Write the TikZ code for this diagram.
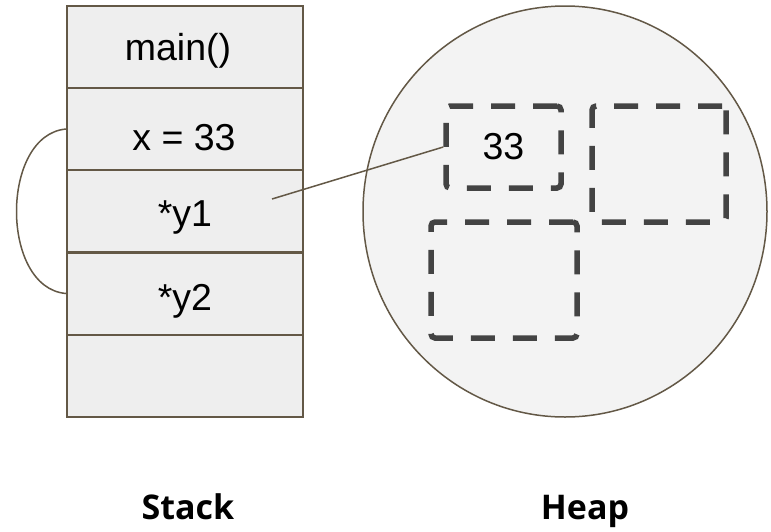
\documentclass[tikz,border=0pt]{standalone}
\usepackage{fontspec}
\setmainfont{Liberation Sans}
\newfontfamily\labelfont{Open Sans}
\usetikzlibrary{shapes.geometric}
\definecolor{edge}{RGB}{99,88,70}
\definecolor{rowfill}{RGB}{238,238,238}
\definecolor{heapfill}{RGB}{243,243,243}
\definecolor{dashcol}{RGB}{67,67,67}
\tikzset{
  row/.style={draw=edge, line width=2pt, fill=rowfill, minimum width=236pt, minimum height=82pt, inner sep=0pt},
  rowtext/.style={anchor=base, inner sep=0pt, font=\fontsize{37.5}{40}\selectfont},
  heapshape/.style={ellipse, draw=edge, line width=1.5pt, fill=heapfill, minimum width=404pt, minimum height=411pt, inner sep=0pt},
  blockbox/.style={draw=dashcol, line width=5.5pt, rounded corners=4pt, dash pattern=on 24pt off 18pt, inner sep=0pt, font=\fontsize{37.5}{40}\selectfont},
  conn/.style={draw=edge, line width=1.5pt},
  title/.style={anchor=base, inner sep=0pt, font=\labelfont\bfseries\fontsize{34}{38}\selectfont}
}
\begin{document}
\begin{tikzpicture}[x=1pt, y=-1pt]
\useasboundingbox (0,0) rectangle (771,531);
% stack
\node[row] (s1) at (185,47) {};
\node[row] (s2) at (185,129) {};
\node[row] (s3) at (185,211) {};
\node[row] (s4) at (185,293.5) {};
\node[row] (s5) at (185,376) {};
\node[rowtext] (t1) at (178,60) {main()};
\node[rowtext] (t2) at (184,150) {x = 33};
\node[rowtext] (t3) at (185,226.5) {*y1};
\node[rowtext] (t4) at (185,310) {*y2};
% heap
\node[heapshape] (heap) at (565,211.5) {};
\node[blockbox, minimum width=115pt, minimum height=82pt] (b1) at (503.5,147) {33};
\node[blockbox, minimum width=134pt, minimum height=116pt] (b2) at (659,164) {};
\node[blockbox, minimum width=146pt, minimum height=116pt] (b3) at (504,280) {};
% connectors
\coordinate (p) at (272,199);
\draw[conn] (p) -- (b1.west);
\draw[conn] (s2.west) .. controls (0,135) and (0,288) .. (s4.west);
% labels
\node[title] (stack) at (188,519) {Stack};
\node[title] (heaplabel) at (585,519) {Heap};
\end{tikzpicture}
\end{document}
